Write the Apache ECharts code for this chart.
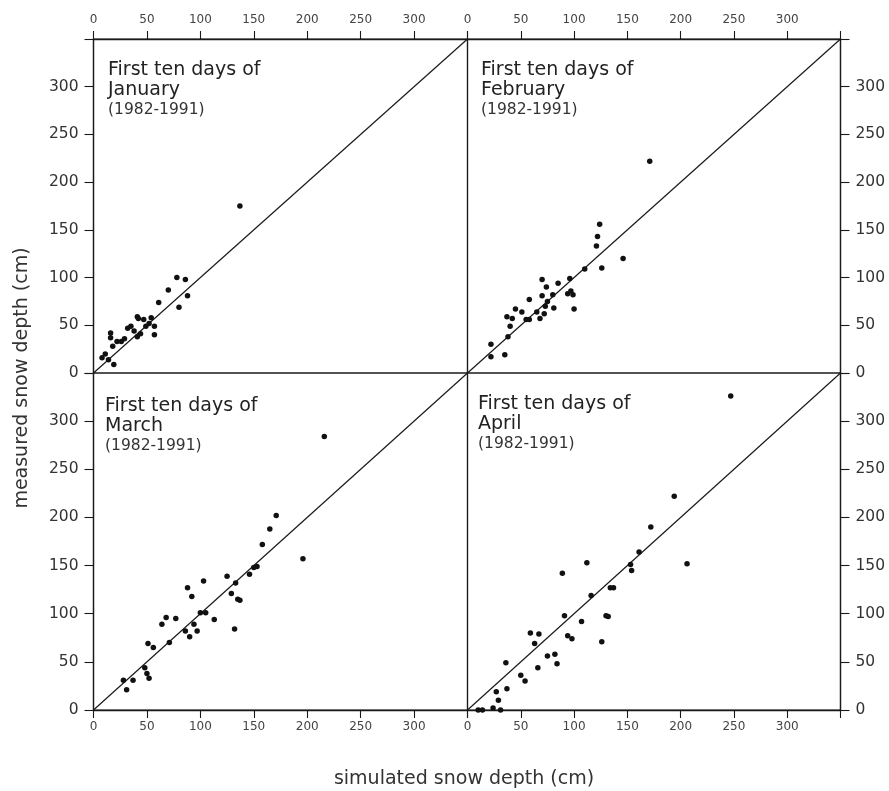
<!DOCTYPE html>
<html>
<head>
<meta charset="utf-8">
<script src="https://cdn.jsdelivr.net/npm/echarts/dist/echarts.min.js"></script>
<style>
html,body{margin:0;padding:0;background:#fff;}
#chart{width:889px;height:791px;}
</style>
</head>
<body>
<div id="chart"></div>
<script>
// ---- data: [simulated, measured] snow depth (cm) ----
const january = [[137,175],[78,100],[86,98],[70,87],[88,81],[61,74],[80,69],[41,59],[42,57],[47,56],[54,58],[52,52],[57,49],[57,40],[35,49],[32,47],[38,44],[41,38],[44,41],[16,42],[16,37],[22,33],[26,33],[18,28],[8,16],[14,14],[19,9],[11,20],[29,36],[49,49]];
const february = [[171,222],[124,156],[122,143],[121,133],[146,120],[110,109],[126,110],[70,98],[96,99],[85,94],[74,90],[58,77],[70,81],[80,82],[94,83],[99,82],[97,86],[75,75],[73,70],[81,68],[100,67],[45,67],[65,64],[72,62],[51,64],[37,59],[42,57],[55,56],[58,56],[68,57],[40,49],[38,38],[22,30],[22,17],[35,19]];
const march = [[216,284],[196,157],[171,202],[165,188],[158,172],[153,149],[150,148],[146,141],[125,139],[133,132],[103,134],[129,121],[135,115],[137,114],[88,127],[92,118],[100,101],[105,101],[94,89],[86,82],[97,82],[90,76],[113,94],[132,84],[64,89],[68,96],[77,95],[71,70],[51,69],[56,65],[48,44],[50,38],[52,33],[28,31],[37,31],[31,21]];
const april = [[247,326],[194,222],[172,190],[161,164],[206,152],[153,151],[154,145],[112,153],[89,142],[116,119],[134,127],[137,127],[130,98],[132,97],[91,98],[107,92],[94,77],[98,74],[126,71],[59,80],[67,79],[63,69],[75,56],[82,58],[84,48],[66,44],[36,49],[50,36],[54,30],[37,22],[27,19],[29,10],[24,2],[31,0],[10,0],[14,0]];
const oneToOne = [[0,0],[350,350]];
const monthNames = ['January','February','March','April'];
const periodLabel = '(1982-1991)';
const axisMin = 0, axisMax = 350, axisStep = 50;
const xTitle = 'simulated snow depth (cm)';
const yTitle = 'measured snow depth (cm)';

// ---- layout ----
const FONT = '"DejaVu Sans", sans-serif';
const INK = '#1a1a1a';
const panels = [
  {data: january,  grid:{left:93.5, top:39,  width:374, height:334}, xPos:'top',    yPos:'left',  tx:108, ty:60},
  {data: february, grid:{left:467.5,top:39,  width:373, height:334}, xPos:'top',    yPos:'right', tx:481, ty:60},
  {data: march,    grid:{left:93.5, top:373, width:374, height:337}, xPos:'bottom', yPos:'left',  tx:105, ty:396},
  {data: april,    grid:{left:467.5,top:373, width:373, height:337}, xPos:'bottom', yPos:'right', tx:478, ty:394}
];

const hideMax = v => (v >= axisMax ? '' : String(v));

const option = {
  backgroundColor: '#fff',
  animation: false,
  grid: panels.map(p => Object.assign({show:true, borderColor:INK, borderWidth:1.2, containLabel:false}, p.grid)),
  xAxis: panels.map((p,i) => ({
    type:'value', gridIndex:i, min:axisMin, max:axisMax, interval:axisStep, position:p.xPos,
    axisLine:{show:true, onZero:false, lineStyle:{color:INK, width:1.3}},
    axisTick:{show:true, inside:false, length:8, lineStyle:{color:INK, width:1.1}},
    axisLabel:{show:true, formatter:hideMax, fontFamily:FONT, fontSize:12, color:'#444', margin:p.xPos==='top'?13:11},
    splitLine:{show:false}
  })),
  yAxis: panels.map((p,i) => ({
    type:'value', gridIndex:i, min:axisMin, max:axisMax, interval:axisStep, position:p.yPos,
    axisLine:{show:true, onZero:false, lineStyle:{color:INK, width:1.3}},
    axisTick:{show:true, inside:false, length:9, lineStyle:{color:INK, width:1.1}},
    axisLabel:{show:true, formatter:hideMax, fontFamily:FONT, fontSize:15.5, color:'#333', margin:15},
    splitLine:{show:false}
  })),
  series: [].concat(
    panels.map((p,i) => ({
      type:'line', xAxisIndex:i, yAxisIndex:i, data:oneToOne, showSymbol:false, symbol:'none',
      lineStyle:{color:INK, width:1.2}, silent:true, clip:false, z:2
    })),
    panels.map((p,i) => ({
      type:'scatter', xAxisIndex:i, yAxisIndex:i, data:p.data, symbol:'circle', symbolSize:5.5,
      itemStyle:{color:'#111', opacity:1}, clip:false, z:3
    }))
  ),
  graphic: [].concat(
    panels.map((p,i) => ({
      type:'text', left:p.tx, top:p.ty, silent:true,
      style:{text:'First ten days of\n' + monthNames[i], font:'19px ' + FONT, fill:'#222', lineHeight:20}
    })),
    panels.map((p,i) => ({
      type:'text', left:p.tx, top:p.ty + 42, silent:true,
      style:{text:periodLabel, font:'15.5px ' + FONT, fill:'#333'}
    })),
    [
      {type:'text', x:464, y:779, silent:true,
       style:{text:xTitle, font:'19px ' + FONT, fill:'#333', textAlign:'center', textVerticalAlign:'middle'}},
      {type:'text', x:22, y:378, rotation:Math.PI/2, silent:true,
       style:{text:yTitle, font:'19px ' + FONT, fill:'#333', textAlign:'center', textVerticalAlign:'middle'}}
    ]
  )
};

const chart = echarts.init(document.getElementById('chart'), null, {renderer:'canvas'});
chart.setOption(option);
</script>
</body>
</html>
